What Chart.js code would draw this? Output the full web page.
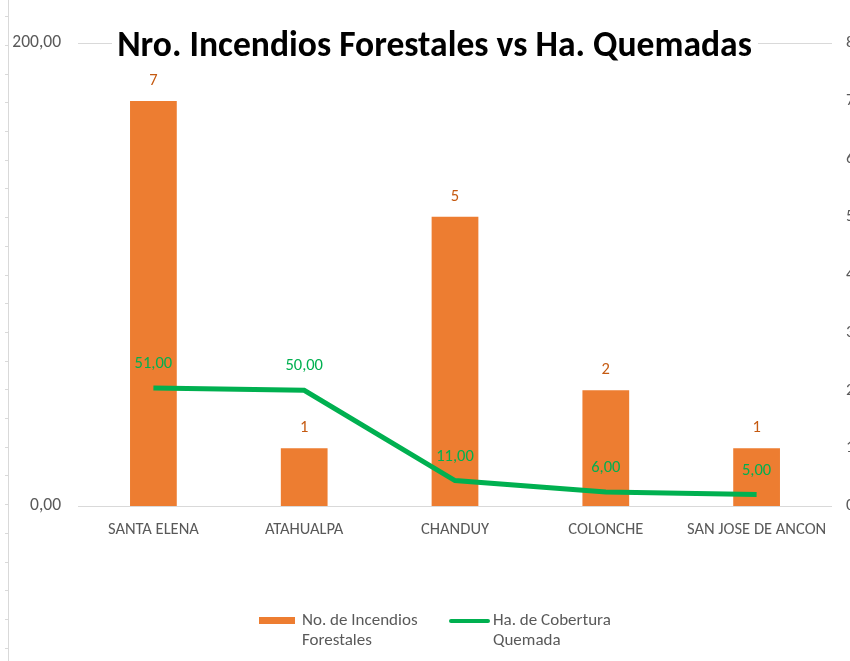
<!DOCTYPE html>
<html lang="es">
  <head>
    <meta charset="UTF-8" />
    <title>Nro. Incendios Forestales vs Ha. Quemadas</title>
    <script src="https://cdn.jsdelivr.net/npm/chart.js"></script>
    <style>
      html, body { margin: 0; padding: 0; background: #fff; overflow: hidden; }
      #wrap { position: relative; width: 880px; height: 661px; }
    </style>
  </head>
  <body>
    <div id="wrap"><canvas id="grafica"></canvas></div>
    <script>
      // datos
      const categorias = ["SANTA ELENA", "ATAHUALPA", "CHANDUY", "COLONCHE", "SAN JOSE DE ANCON"];
      const incendios = [7, 1, 5, 2, 1];
      const hectareas = [51, 50, 11, 6, 5];
      const ticksIzq = [0, 200];
      const ticksDer = [0, 1, 2, 3, 4, 5, 6, 7, 8];

      const TITULO = "Nro. Incendios Forestales vs Ha. Quemadas";
      const LEYENDA_BARRAS = ["No. de Incendios", "Forestales"];
      const LEYENDA_LINEA = ["Ha. de Cobertura", "Quemada"];

      const FUENTE = "Calibri, Carlito, Lato, sans-serif";
      const GRIS = "#595959";
      const NARANJA = "#ED7D31";
      const VERDE = "#00B050";

      function coma(v) {
        return Number(v).toFixed(2).replace(".", ",");
      }

      // etiquetas de valor sobre barras y puntos
      const etiquetas = {
        id: "etiquetas",
        afterDatasetsDraw(chart) {
          const ctx = chart.ctx;
          chart.data.datasets.forEach((ds, i) => {
            const meta = chart.getDatasetMeta(i);
            ctx.save();
            ctx.font = "16.5px " + FUENTE;
            ctx.textAlign = "center";
            ctx.textBaseline = "middle";
            ctx.fillStyle = ds.type === "line" ? VERDE : "#C55A11";
            meta.data.forEach((el, j) => {
              const txt = ds.type === "line" ? coma(ds.data[j]) : String(ds.data[j]);
              const off = ds.type === "line" ? 24 : 20;
              ctx.fillText(txt, el.x, el.y - off);
            });
            ctx.restore();
          });
        },
      };

      // título superpuesto, leyenda y eje exterior de la hoja
      const adornos = {
        id: "adornos",
        afterDraw(chart) {
          const ctx = chart.ctx;
          ctx.save();

          // eje exterior a la izquierda
          ctx.strokeStyle = "#D9D9D9";
          ctx.lineWidth = 1;
          ctx.beginPath();
          ctx.moveTo(8.5, 0);
          ctx.lineTo(8.5, 661);
          for (let y = 16.3; y < 661; y += 28.7) {
            ctx.moveTo(5, Math.round(y) + 0.5);
            ctx.lineTo(8.5, Math.round(y) + 0.5);
          }
          ctx.stroke();

          // título
          ctx.font = "bold 30px " + FUENTE;
          const w = ctx.measureText(TITULO).width;
          const size = 30 * 635 / w;
          ctx.font = "bold " + size.toFixed(1) + "px " + FUENTE;
          ctx.fillStyle = "#fff";
          ctx.fillRect(112, 28, 646, 36);
          ctx.fillStyle = "#000";
          ctx.textAlign = "center";
          ctx.textBaseline = "alphabetic";
          ctx.fillText(TITULO, 434.5, 56);

          // leyenda
          ctx.font = "17px " + FUENTE;
          ctx.textAlign = "left";
          ctx.textBaseline = "middle";
          ctx.fillStyle = NARANJA;
          ctx.fillRect(259, 617, 36, 7);
          ctx.strokeStyle = VERDE;
          ctx.lineWidth = 4;
          ctx.lineCap = "round";
          ctx.beginPath();
          ctx.moveTo(451, 621);
          ctx.lineTo(488, 621);
          ctx.stroke();
          ctx.fillStyle = GRIS;
          LEYENDA_BARRAS.forEach((t, k) => ctx.fillText(t, 302, 621 + k * 20));
          LEYENDA_LINEA.forEach((t, k) => ctx.fillText(t, 493, 621 + k * 20));
          ctx.restore();
        },
      };

      const ctx = document.getElementById("grafica").getContext("2d");
      new Chart(ctx, {
        type: "bar",
        data: {
          labels: categorias,
          datasets: [
            {
              type: "line",
              label: LEYENDA_LINEA.join(" "),
              data: hectareas,
              yAxisID: "y",
              borderColor: VERDE,
              borderWidth: 5,
              pointRadius: 0,
              tension: 0,
              fill: false,
              order: 1,
            },
            {
              type: "bar",
              label: LEYENDA_BARRAS.join(" "),
              data: incendios,
              yAxisID: "y1",
              backgroundColor: NARANJA,
              categoryPercentage: 1,
              barPercentage: 0.31,
              order: 2,
            },
          ],
        },
        options: {
          responsive: true,
          maintainAspectRatio: false,
          animation: false,
          layout: { padding: { top: 43, left: 0, right: 0, bottom: 0 } },
          plugins: {
            legend: { display: false },
            title: { display: false },
            tooltip: { enabled: false },
          },
          scales: {
            x: {
              grid: { display: false, drawTicks: false },
              border: { display: false },
              ticks: {
                color: GRIS,
                font: { family: FUENTE, size: 16.5 },
                padding: 14,
                maxRotation: 0,
                autoSkip: false,
              },
              afterFit(scale) {
                scale.height = 155;
              },
            },
            y: {
              position: "left",
              min: ticksIzq[0],
              max: ticksIzq[ticksIzq.length - 1],
              afterBuildTicks(scale) {
                scale.ticks = ticksIzq.map((v) => ({ value: v }));
              },
              grid: { color: "#D9D9D9", drawTicks: false },
              border: { display: false },
              ticks: {
                color: GRIS,
                font: { family: FUENTE, size: 17.5 },
                padding: 17,
                callback: (v) => coma(v),
              },
              afterFit(scale) {
                scale.width = 78;
              },
            },
            y1: {
              position: "right",
              min: ticksDer[0],
              max: ticksDer[ticksDer.length - 1],
              afterBuildTicks(scale) {
                scale.ticks = ticksDer.map((v) => ({ value: v }));
              },
              grid: { display: false, drawTicks: false },
              border: { display: false },
              ticks: {
                color: GRIS,
                font: { family: FUENTE, size: 17 },
                padding: 14,
              },
              afterFit(scale) {
                scale.width = 48;
              },
            },
          },
        },
        plugins: [etiquetas, adornos],
      });
    </script>
  </body>
</html>
